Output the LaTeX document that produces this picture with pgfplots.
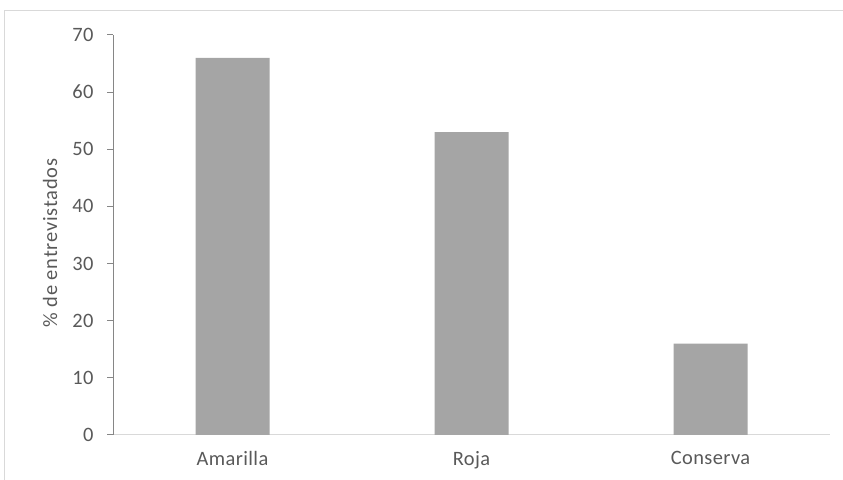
\documentclass[border=0pt]{standalone}
\usepackage{pgfplots}
\pgfplotsset{compat=1.18}
\usepackage{fontspec}
\setmainfont{Carlito}
\definecolor{barc}{HTML}{A5A5A5}
\definecolor{txt}{HTML}{595959}
\definecolor{yax}{HTML}{868686}
\definecolor{xax}{HTML}{D9D9D9}
\begin{document}
\begin{tikzpicture}[x=1bp,y=1bp]
\useasboundingbox (0,0) rectangle (843,480);
\draw[color=xax, line width=1bp] (4,0) -- (4,469) -- (843,469);
\begin{axis}[
  at={(113bp,45bp)}, anchor=south west,
  scale only axis, width=717bp, height=400bp,
  xmin=-0.5, xmax=2.5, ymin=0, ymax=70,
  axis x line*=bottom, axis y line*=left,
  ybar, bar width=74bp,
  xtick=data, xticklabels={Amarilla,Roja,Conserva},
  ytick={0,10,...,70},
  x axis line style={color=xax, line width=1bp, -},
  y axis line style={color=yax, line width=1bp, -},
  xtick style={draw=none},
  ytick style={color=yax, line width=1bp},
  tick align=outside, major tick length=6bp,
  /pgf/number format/assume math mode=true,
  ticklabel style={font=\fontsize{20.5}{24}\selectfont\addfontfeature{LetterSpace=2}, text=txt},
  yticklabel style={anchor=east, xshift=-10bp},
  xticklabel style={yshift=-7bp},
  enlarge x limits=false,
]
\addplot[fill=barc, draw=none] coordinates {(0,66) (1,53) (2,16)};
\end{axis}
\node[rotate=90, text=txt, font=\fontsize{20.5}{24}\selectfont\addfontfeature{LetterSpace=4}] at (50,237) {\% de entrevistados};
\end{tikzpicture}
\end{document}
